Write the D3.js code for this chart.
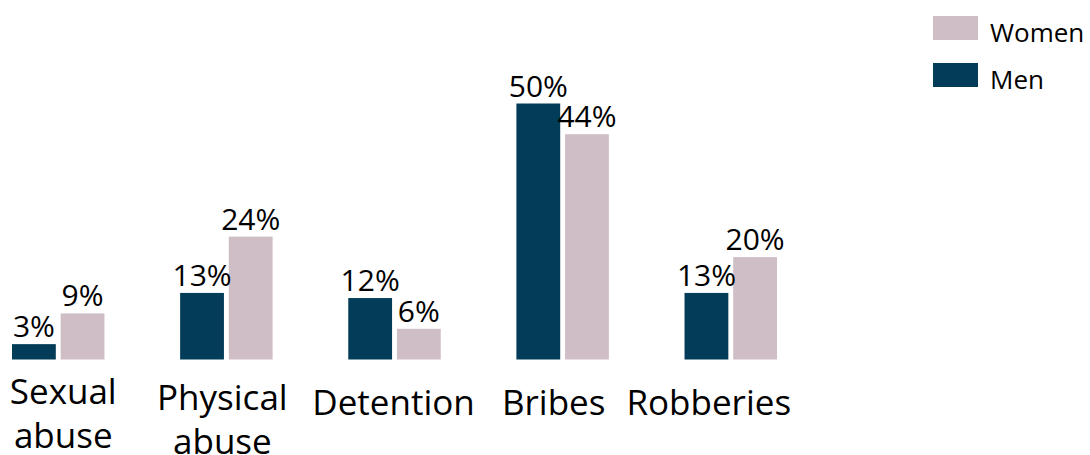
<!DOCTYPE html>
<html>
<head>
<meta charset="utf-8">
<script src="https://cdn.jsdelivr.net/npm/d3@7"></script>
<style>
    body { margin: 0; background: #fff; }
    text { font-family: "Open Sans", sans-serif; fill: #000; }
</style>
</head>
<body>
<svg id="chart" width="1090" height="455"></svg>
<script>
"use strict";

// data
var categories = ["Sexual abuse", "Physical abuse", "Detention", "Bribes", "Robberies"]
var categoryLines = [["Sexual", "abuse"], ["Physical", "abuse"], ["Detention"], ["Bribes"], ["Robberies"]]
var series = ["Men", "Women"]
var menValues = [3, 13, 12, 50, 13]
var womenValues = [9, 24, 6, 44, 20]
var legendOrder = ["Women", "Men"]

var colors = { Men: "#023c58", Women: "#cfbec5" }

// small nudges so the category labels sit where they do in the original
var labelNudge = {
    "Sexual abuse": { dx: 5, dy: -11 },
    "Physical abuse": { dx: -4, dy: -5 },
    "Detention": { dx: -1, dy: 0 },
    "Bribes": { dx: -9, dy: 0 },
    "Robberies": { dx: -22, dy: 0 }
}

var svg = d3.select("#chart")

var rows = categories.map((c, i) => ({
    category: c,
    lines: categoryLines[i],
    values: [
        { key: "Men", value: menValues[i] },
        { key: "Women", value: womenValues[i] }
    ]
}))

var x0 = d3.scaleBand().domain(categories).range([12, 777]).paddingInner(0.45).paddingOuter(0)
var x1 = d3.scaleBand().domain(series).range([0, x0.bandwidth()]).paddingInner(0.1)
var y = d3.scaleLinear().domain([0, 50]).range([359.5, 103.5])

var groups = svg.append("g").selectAll("g")
    .data(rows)
    .join("g")
    .attr("transform", d => "translate(" + x0(d.category) + ",0)")

groups.selectAll("rect")
    .data(d => d.values)
    .join("rect")
    .attr("x", d => x1(d.key))
    .attr("y", d => y(d.value))
    .attr("width", x1.bandwidth())
    .attr("height", d => y(0) - y(d.value))
    .attr("fill", d => colors[d.key])

groups.selectAll("text.value")
    .data(d => d.values)
    .join("text")
    .attr("class", "value")
    .attr("x", d => x1(d.key) + x1.bandwidth() / 2)
    .attr("y", d => y(d.value) - 7)
    .attr("text-anchor", "middle")
    .style("font-size", "30px")
    .text(d => d.value + "%")

// category labels
var labels = svg.append("g").selectAll("text")
    .data(rows)
    .join("text")
    .attr("text-anchor", "middle")
    .style("font-size", "35px")
    .attr("transform", d => {
        var n = labelNudge[d.category]
        return "translate(" + (x0(d.category) + x0.bandwidth() / 2 + n.dx) + "," + (y(0) + 55.5 + n.dy) + ")"
    })

labels.selectAll("tspan")
    .data(d => d.lines)
    .join("tspan")
    .attr("x", 0)
    .attr("y", (d, i) => i * 44)
    .text(d => d)

// legend
var legend = svg.append("g").attr("transform", "translate(933,16)")
var items = legend.selectAll("g")
    .data(legendOrder)
    .join("g")
    .attr("transform", (d, i) => "translate(0," + i * 47 + ")")

items.append("rect")
    .attr("width", 45)
    .attr("height", 24)
    .attr("fill", d => colors[d])

items.append("text")
    .attr("x", 57)
    .attr("y", 26)
    .style("font-size", "26px")
    .text(d => d)
</script>
</body>
</html>
